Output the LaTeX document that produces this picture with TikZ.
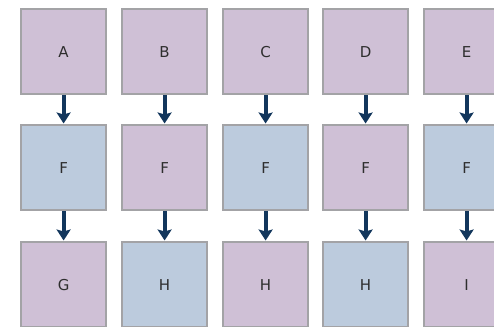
\documentclass[tikz,border=0pt]{standalone}
\usepackage{fontspec}
\setmainfont{DejaVu Sans}
\usetikzlibrary{arrows.meta}
\definecolor{lav}{HTML}{CFC0D6}
\definecolor{sky}{HTML}{BCCBDD}
\definecolor{edge}{HTML}{A3A3A6}
\definecolor{navy}{HTML}{12365C}
\definecolor{txt}{HTML}{2E2E2E}
\begin{document}
\begin{tikzpicture}[x=1pt,y=-1pt,
  cell/.style={draw=edge,line width=2.2pt,minimum width=85pt,minimum height=85pt,inner sep=0pt,
    font=\fontsize{15}{17}\selectfont,text=txt,anchor=north west},
  pu/.style={cell,fill=lav},
  bl/.style={cell,fill=sky},
  flow/.style={draw=navy,line width=4pt,-{Stealth[width=14pt,length=11pt,inset=2pt]},shorten >=0.5pt}]
\useasboundingbox (0,0) rectangle (494,326);
\node[pu] (a) at (20,8) {A};
\node[pu] (b) at (121,8) {B};
\node[pu] (c) at (222,8) {C};
\node[pu] (d) at (322,8) {D};
\node[pu] (e) at (423,8) {E};
\node[bl] (f1) at (20,124) {F};
\node[pu] (f2) at (121,124) {F};
\node[bl] (f3) at (222,124) {F};
\node[pu] (f4) at (322,124) {F};
\node[bl] (f5) at (423,124) {F};
\node[pu] (g) at (20,241) {G};
\node[bl] (h1) at (121,241) {H};
\node[pu] (h2) at (222,241) {H};
\node[bl] (h3) at (322,241) {H};
\node[pu] (i) at (423,241) {I};
\foreach \u/\v in {a/f1,b/f2,c/f3,d/f4,e/f5,f1/g,f2/h1,f3/h2,f4/h3,f5/i}
  \draw[flow] (\u.south) -- (\v.north);
\end{tikzpicture}
\end{document}
